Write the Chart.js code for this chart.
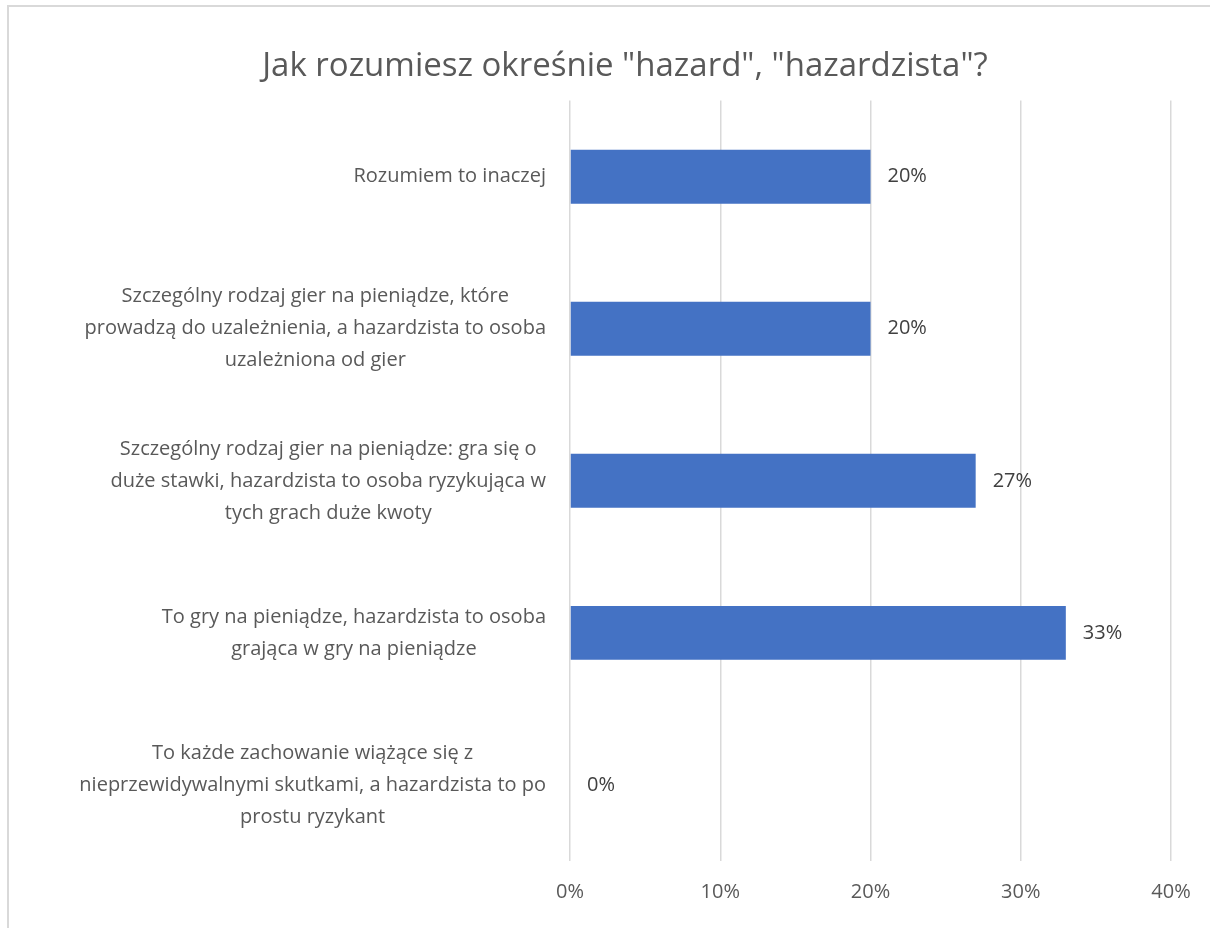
<!DOCTYPE html>
<html>
<head>
<meta charset="utf-8">
<script src="https://cdn.jsdelivr.net/npm/chart.js@4"></script>
<style>
  html, body { margin: 0; padding: 0; background: #fff; overflow: hidden; }
  #frame { position: absolute; left: 7px; top: 5px; width: 1300px; height: 1000px; border: 2px solid #d9d9d9; }
  #wrap { position: absolute; left: 0; top: 0; width: 1210px; height: 928px; }
</style>
</head>
<body>
<div id="frame"></div>
<div id="wrap"><canvas id="chart"></canvas></div>
<script>
// categories (top to bottom), each split into its display lines
const categories = [
    ["Rozumiem to inaczej"],
    ["Szczególny rodzaj gier na pieniądze, które", "prowadzą do uzależnienia, a hazardzista to osoba", "uzależniona od gier"],
    ["Szczególny rodzaj gier na pieniądze: gra się o", "duże stawki, hazardzista to osoba ryzykująca w", "tych grach duże kwoty"],
    ["To gry na pieniądze, hazardzista to osoba", "grająca w gry na pieniądze"],
    ["To każde zachowanie wiążące się z", "nieprzewidywalnymi skutkami, a hazardzista to po", "prostu ryzykant"]
];
const values = [20, 20, 27, 33, 0];
const xTicks = [0, 10, 20, 30, 40];

const FONT = "'Open Sans', sans-serif";

// category labels: each block right-aligned to the axis, its lines centred within it
const categoryLabels = {
    id: 'categoryLabels',
    afterDraw(chart) {
        const c = chart.ctx;
        const yScale = chart.scales.y;
        const lineH = 32;
        const blockRight = chart.chartArea.left - 24;
        c.save();
        c.font = "20px " + FONT;
        c.fillStyle = "#595959";
        c.textAlign = "center";
        c.textBaseline = "middle";
        categories.forEach((lines, i) => {
            const y = yScale.getPixelForValue(i);
            const bw = Math.max(...lines.map(l => c.measureText(l).width));
            const cx = blockRight - bw / 2;
            const y0 = y - (lines.length - 1) * lineH / 2;
            lines.forEach((l, k) => c.fillText(l, cx, y0 + k * lineH));
        });
        c.restore();
    }
};

// value labels next to the bars
const barLabels = {
    id: 'barLabels',
    afterDatasetsDraw(chart) {
        const c = chart.ctx;
        const meta = chart.getDatasetMeta(0);
        c.save();
        c.font = "20px " + FONT;
        c.fillStyle = "#404040";
        c.textAlign = "left";
        c.textBaseline = "middle";
        meta.data.forEach((bar, i) => {
            c.fillText(values[i] + "%", bar.x + 17, bar.y);
        });
        c.restore();
    }
};

const ctx = document.getElementById('chart').getContext('2d');
const chart = new Chart(ctx, {
    type: 'bar',
    data: {
        labels: categories.map(c => c.join(' ')),
        datasets: [{
            data: values,
            backgroundColor: '#4472C4',
            borderWidth: 0,
            categoryPercentage: 1,
            barPercentage: 0.355
        }]
    },
    options: {
        indexAxis: 'y',
        responsive: true,
        maintainAspectRatio: false,
        animation: false,
        layout: { padding: { left: 79, right: 39, top: 0, bottom: 5 } },
        plugins: {
            legend: { display: false },
            tooltip: { enabled: false },
            title: {
                display: true,
                text: 'Jak rozumiesz okreśnie "hazard", "hazardzista"?',
                color: '#595959',
                font: { family: FONT, size: 33, weight: 'normal' },
                padding: { top: 47, bottom: 14 }
            }
        },
        scales: {
            x: {
                min: 0,
                max: 40,
                afterBuildTicks: axis => { axis.ticks = xTicks.map(v => ({ value: v })); },
                ticks: {
                    callback: v => v + '%',
                    color: '#595959',
                    font: { family: FONT, size: 20 },
                    padding: 19
                },
                grid: { color: '#d9d9d9', lineWidth: 1.5, drawTicks: false },
                border: { display: false }
            },
            y: {
                afterFit: axis => {
                    axis.width = 570 - 79;
                    axis.paddingTop = 0;
                    axis.paddingBottom = 0;
                },
                ticks: { display: false },
                grid: { display: false },
                border: { display: false }
            }
        }
    },
    plugins: [categoryLabels, barLabels]
});
</script>
</body>
</html>
